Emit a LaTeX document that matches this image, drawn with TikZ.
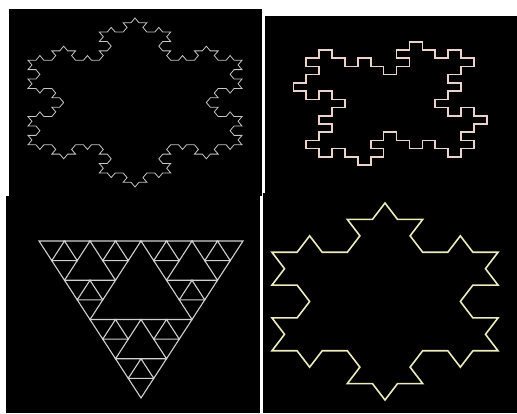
\documentclass[tikz,border=0pt]{standalone}
\usepackage{tikz}
\definecolor{Chalk}{HTML}{C6C6C6}
\definecolor{Blush}{HTML}{EAD3C8}
\definecolor{Ash}{HTML}{D0D0D0}
\definecolor{Butter}{HTML}{EDEABE}
\tikzset{
  panel/.style={fill=black, draw=none},
  flake/.style={draw=Chalk, line width=0.8pt, line join=miter},
  bigflake/.style={flake, draw=Butter, line width=1.6pt},
  island/.style={draw=Blush, line width=1.6pt, line join=miter},
  sierp/.style={draw=Ash, line width=1.1pt, line join=miter},
}
% one Koch side: level, direction (in steps of 60 degrees)
\def\kochside#1#2{%
  \ifnum\numexpr#1\relax=0
    \xdef\kochlist{\kochlist -- ++(\the\numexpr60*(#2)\relax:\kochlen)}%
  \else
    \kochside{#1-1}{#2}%
    \kochside{#1-1}{#2+1}%
    \kochside{#1-1}{#2-1}%
    \kochside{#1-1}{#2}%
  \fi}
\def\buildflake#1#2{%
  \gdef\kochlist{}\gdef\kochlen{#2}%
  \kochside{#1}{-1}\kochside{#1}{3}\kochside{#1}{1}}
\def\islandquarter{3/1,3/2,4/2,4/3,5/3,5/2,6/2,6/3,7/3,7/4,8/4,8/3,9/3,9/2,8/2,8/1,9/1,9/0,10/0,10/1,11/1,11/2,12/2,12/1,13/1,13/2,14/2}
\begin{document}
\begin{tikzpicture}[x=1pt, y=-1pt]
  \fill[white] (0,0) rectangle (517,413);
  \useasboundingbox (0,0) rectangle (517,413);
  \fill[panel] (9,9) rectangle (262,196);
  \fill[panel] (265,16) rectangle (517,196);
  \fill[panel] (6,196) rectangle (260,413);
  \fill[panel] (263,193) rectangle (517,413);
  \buildflake{3}{5.4207}
  \begin{scope}[shift={(135,102.5)}, x=1.462pt, y=1pt]
    \draw[flake] (90:84.5) \kochlist -- cycle;
  \end{scope}
  \begin{scope}[shift={(293.3,41.7)}, x=12.9pt, y=-8.23pt]
    \draw[island] (2,1)
      \foreach \gx/\gy in \islandquarter {-- (\gx,\gy)}
      \foreach \gx/\gy in \islandquarter {-- ({15-\gy},\gx)}
      \foreach \gx/\gy in \islandquarter {-- ({15-\gx},{15-\gy})}
      \foreach \gx/\gy in \islandquarter {-- (\gy,{15-\gx})} -- cycle;
  \end{scope}
  \foreach \i in {0,1,2}
    \foreach \j in {0,1,2}
      \foreach \k in {0,1,2} {
        \pgfmathsetmacro\sa{0.5*(\i==1)+0.25*(\j==1)+0.125*(\k==1)}
        \pgfmathsetmacro\sb{0.5*(\i==2)+0.25*(\j==2)+0.125*(\k==2)}
        \draw[sierp] ({39+204*\sa+102*\sb},{241+157*\sb})
          -- ++(25.5,0) -- ++(-12.75,19.625) -- cycle;
      }
  \buildflake{2}{18.956}
  \begin{scope}[shift={(385,301.5)}, x=1.325pt, y=1pt]
    \draw[bigflake] (90:98.5) \kochlist -- cycle;
  \end{scope}
\end{tikzpicture}
\end{document}
